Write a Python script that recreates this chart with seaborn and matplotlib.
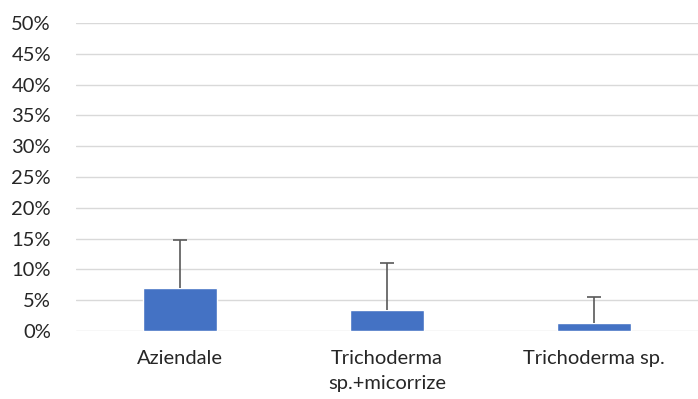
import numpy as np
import pandas as pd
import matplotlib as mpl
mpl.use("Agg")
import matplotlib.pyplot as plt
import seaborn as sns
from matplotlib.ticker import PercentFormatter

categories = ["Aziendale", "Trichoderma\nsp.+micorrize", "Trichoderma sp."]
means = [0.070, 0.034, 0.013]
errors = [0.078, 0.076, 0.043]
yticks = np.arange(0, 0.51, 0.05)

df = pd.DataFrame({"cat": categories, "val": means})

sns.set_style("white")
plt.rcParams["font.family"] = ["Lato", "DejaVu Sans"]

fig = plt.figure(figsize=(6.98, 3.99), dpi=100)
ax = fig.add_axes([76 / 698, 1 - 331 / 399, 1 - 76 / 698, (331 - 23) / 399])

sns.barplot(data=df, x="cat", y="val", color="#4472C4", width=0.357,
            saturation=1, ax=ax, zorder=3)
eb = ax.errorbar(range(len(categories)), means,
                 yerr=[np.zeros(len(errors)), errors], fmt="none",
                 ecolor="#595959", elinewidth=1.2, capsize=5, capthick=1.2,
                 zorder=4)
# only the plus direction, like Excel: hide the lower caps
eb[1][0].set_visible(False)

ax.set_ylim(0, 0.5)
ax.set_xlim(-0.5, 2.5)
ax.set_yticks(yticks)
ax.yaxis.set_major_formatter(PercentFormatter(1.0, decimals=0))
ax.grid(axis="y", color="#d9d9d9", linewidth=1, zorder=0)
ax.set_axisbelow(True)
for s in ax.spines.values():
    s.set_visible(False)
ax.tick_params(axis="y", length=0, pad=18, labelsize=14.5, labelcolor="#262626")
ax.tick_params(axis="x", length=0, pad=14, labelsize=14.5, labelcolor="#262626")
for lab in ax.get_xticklabels():
    lab.set_linespacing(1.55)
ax.set_xlabel("")
ax.set_ylabel("")

fig.savefig("out.png", dpi=100)
